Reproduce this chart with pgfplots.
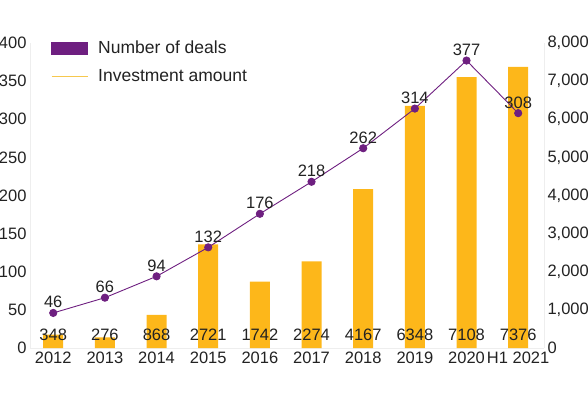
\documentclass[border=0pt]{standalone}
\usepackage{pgfplots}
\pgfplotsset{compat=1.18}
\usepackage{fontspec}
\setmainfont{Liberation Sans}
\definecolor{barc}{HTML}{FDB71A}
\definecolor{linec}{HTML}{6E1F80}
\definecolor{txt}{HTML}{222222}
\definecolor{axc}{HTML}{EEEEEE}
\definecolor{legl}{HTML}{F6C84E}
\newcommand{\fs}{\fontsize{16.5}{19}\selectfont}
\newcommand{\fl}{\fontsize{17.5}{20}\selectfont}
\begin{document}
\begin{tikzpicture}[x=1pt,y=1pt]
\useasboundingbox (-30,-44) rectangle (558,348);
\clip (-30,-44) rectangle (558,348);
% bars: investment amount (right axis)
\begin{axis}[
 at={(0,0)}, anchor=south west, scale only axis, width=514pt, height=305pt,
 xmin=-0.45, xmax=9.5, ymin=0, ymax=8000,
 axis y line*=right, axis x line*=bottom,
 xtick={0,...,9},
 xticklabels={2012,2013,2014,2015,2016,2017,2018,2019,2020,H1 2021},
 ytick={0,1000,...,8000},
 scaled y ticks=false,
 /pgf/number format/assume math mode=true,
 /pgf/number format/1000 sep={,},
 tick label style={font=\fs, text=txt},
 major tick length=0pt,
 axis line style={draw=axc, line width=0.6pt},
 clip=false,
]
\addplot[ybar, bar width=20pt, fill=barc, draw=none] coordinates {
 (0,348) (1,276) (2,868) (3,2721) (4,1742) (5,2274) (6,4167) (7,6348) (8,7108) (9,7376)};
\addplot[draw=none, mark=none, nodes near coords, point meta=explicit symbolic,
 every node near coord/.append style={anchor=center, font=\fs, text=txt}] coordinates {
 (0,340)[348] (1,340)[276] (2,340)[868] (3,340)[2721] (4,340)[1742] (5,340)[2274] (6,340)[4167] (7,340)[6348] (8,340)[7108] (9,340)[7376]};
\end{axis}
% line: number of deals (left axis)
\begin{axis}[
 at={(0,0)}, anchor=south west, scale only axis, width=514pt, height=305pt,
 xmin=-0.45, xmax=9.5, ymin=0, ymax=400,
 axis x line=none, axis y line*=left,
 ytick={0,50,...,400},
 /pgf/number format/assume math mode=true,
 tick label style={font=\fs, text=txt},
 major tick length=0pt,
 axis line style={draw=axc, line width=0.6pt},
 clip=false,
 legend style={at={(axis description cs:0.035,1.02)}, anchor=north west, draw=none, fill=none, font=\fl, text=txt, row sep=10pt,
   /tikz/every odd column/.append style={column sep=8pt}},
 legend cell align=left,
]
\addplot[linec, line width=0.9pt, mark=*, mark size=3.6pt, forget plot,
 nodes near coords, every node near coord/.append style={font=\fs, text=txt, yshift=1pt}] coordinates {
 (0,46) (1,66) (2,94) (3,132) (4,176) (5,218) (6,262) (7,314) (8,377) (9,308)};
\addlegendimage{linec, legend image code/.code={\fill (0pt,-6pt) rectangle (36pt,6pt);}}
\addlegendentry{Number of deals}
\addlegendimage{legl, line width=1pt, legend image code/.code={\draw (0pt,0pt) -- (36pt,0pt);}}
\addlegendentry{Investment amount}
\end{axis}
\end{tikzpicture}
\end{document}
